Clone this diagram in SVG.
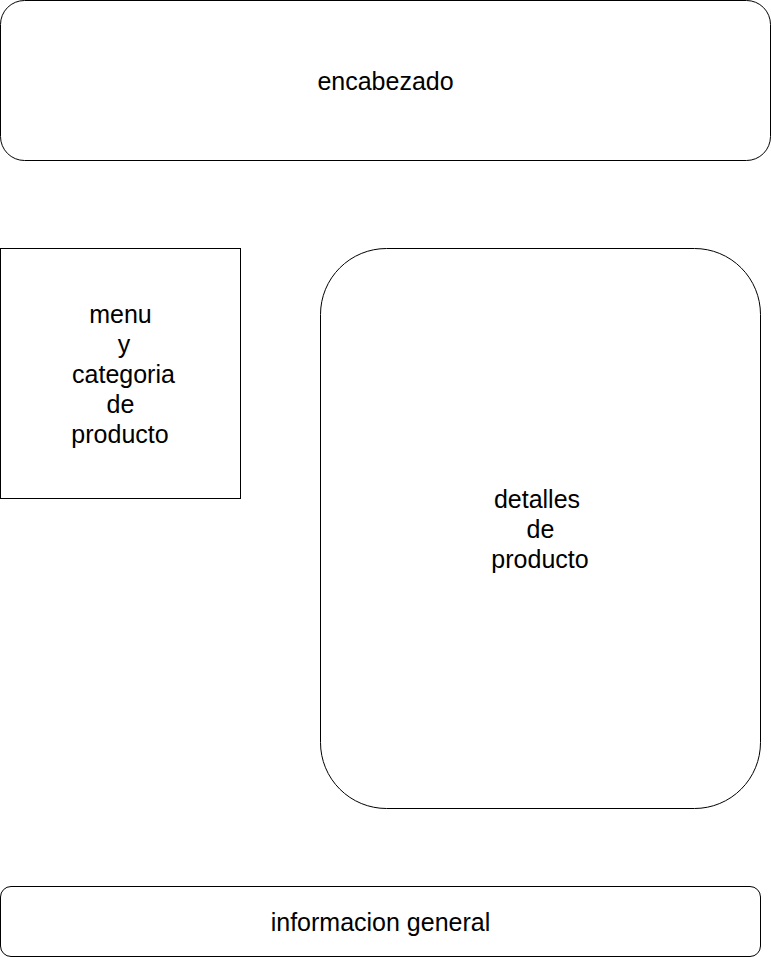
<svg xmlns="http://www.w3.org/2000/svg" width="771" height="957" viewBox="0 0 771 957">
<style>
.box{fill:#ffffff;stroke:#000000;stroke-width:1}
.lbl{font-family:"Liberation Sans",Arial,sans-serif;font-size:25px;fill:#000000;text-anchor:middle}
</style>
<rect width="771" height="957" fill="#ffffff"/>
<g id="connectors"></g>
<g id="encabezado">
<rect class="box" x="0.5" y="0.5" width="770" height="160" rx="24" ry="24"/>
<text class="lbl" x="385.5" y="90">encabezado</text>
</g>
<g id="menu">
<rect class="box" x="0.5" y="248.5" width="240" height="250"/>
<text class="lbl" x="120.5" y="323">menu</text>
<text class="lbl" x="124" y="353">y</text>
<text class="lbl" x="123.5" y="383">categoria</text>
<text class="lbl" x="120.5" y="413">de</text>
<text class="lbl" x="120" y="443">producto</text>
</g>
<g id="detalles">
<rect class="box" x="320.5" y="248.5" width="440" height="560" rx="66" ry="66"/>
<text class="lbl" x="537" y="508">detalles</text>
<text class="lbl" x="540.5" y="538">de</text>
<text class="lbl" x="540" y="568">producto</text>
</g>
<g id="informacion">
<rect class="box" x="0.5" y="886.5" width="760" height="70" rx="10.5" ry="10.5"/>
<text class="lbl" x="380.5" y="930.5">informacion general</text>
</g>
</svg>
